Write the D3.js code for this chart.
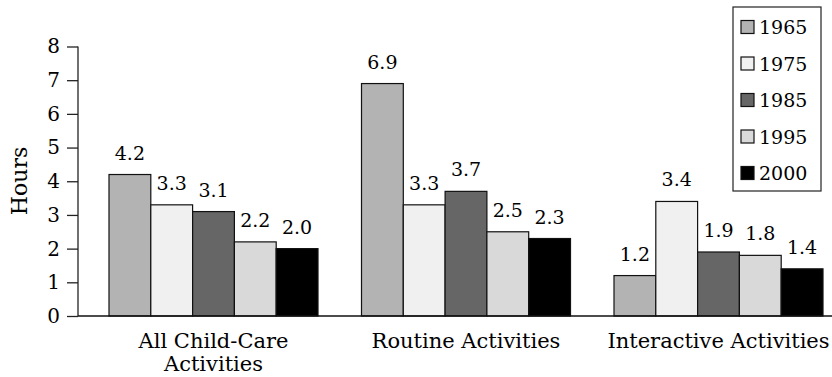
<!DOCTYPE html>
<html><head><meta charset="utf-8">
<script src="https://cdn.jsdelivr.net/npm/d3@7"></script>
<style>body{margin:0;background:#fff}svg{display:block}text{font-family:"DejaVu Serif",serif;fill:#000}</style>
</head><body>
<svg id="c" width="832" height="377"></svg>
<script>
const categories = [["All Child-Care","Activities"],["Routine Activities"],["Interactive Activities"]];
const years = ["1965","1975","1985","1995","2000"];
const colors = ["#b3b3b3","#f0f0f0","#666666","#d9d9d9","#000000"];
const v1965 = [4.2, 6.9, 1.2];
const v1975 = [3.3, 3.3, 3.4];
const v1985 = [3.1, 3.7, 1.9];
const v1995 = [2.2, 2.5, 1.8];
const v2000 = [2.0, 2.3, 1.4];
const yTicks = [0,1,2,3,4,5,6,7,8];
const series = [v1965, v1975, v1985, v1995, v2000];

const svg = d3.select("#c");
const fsNum = 19, fsText = 21;
const ff = '"DejaVu Serif",serif';
const x0 = 78;
const step = 252.5, pIn = 43.5/252.5, pOut = 31/252.5;
const x = d3.scaleBand().domain(d3.range(categories.length))
  .range([x0, x0 + step*(categories.length - pIn + 2*pOut)])
  .paddingInner(pIn).paddingOuter(pOut);
const xi = d3.scaleBand().domain(d3.range(years.length)).range([0, x.bandwidth()]);
const y = d3.scaleLinear().domain([0,8]).range([316, 46.5]);

// y axis
const ya = svg.append("g").attr("transform",`translate(${x0},0)`)
  .call(d3.axisLeft(y).tickValues(yTicks).tickSize(11).tickPadding(7).tickFormat(d3.format("d")));
ya.select(".domain").attr("d", `M0,${y(8)}V${y(0)}`).attr("stroke","#222").attr("stroke-width",1.3);
ya.selectAll(".tick line").attr("stroke","#222").attr("stroke-width",1.3);
ya.selectAll(".tick text").attr("font-size",fsNum + 1).attr("font-family",ff).attr("fill","#000");

svg.append("text").attr("transform",`translate(27,181) rotate(-90)`)
  .attr("text-anchor","middle").attr("font-size",fsText + 1).text("Hours");

// bars
const g = svg.append("g");
categories.forEach((c, ci) => {
  series.forEach((s, si) => {
    const bx = x(ci) + xi(si);
    g.append("rect").attr("x", bx).attr("y", y(s[ci]))
      .attr("width", xi.bandwidth()).attr("height", y(0) - y(s[ci]))
      .attr("fill", colors[si]).attr("stroke","#111").attr("stroke-width",1.2);
    g.append("text").attr("x", bx + xi.bandwidth()/2).attr("y", y(s[ci]) - 15)
      .attr("text-anchor","middle").attr("font-size",fsNum).text(s[ci].toFixed(1));
  });
});

// x axis line
svg.append("line").attr("x1", x0).attr("x2", 832).attr("y1", y(0)).attr("y2", y(0))
  .attr("stroke","#111").attr("stroke-width",1.3);

// category labels
categories.forEach((c, ci) => {
  const t = svg.append("text").attr("text-anchor","middle").attr("font-size",fsText)
    .attr("x", x(ci) + x.bandwidth()/2).attr("y", 348);
  c.forEach((line, li) => t.append("tspan").attr("x", x(ci) + x.bandwidth()/2).attr("dy", li ? 23 : 0).text(line));
});

// legend
const lg = svg.append("g");
lg.append("rect").attr("x",733).attr("y",7).attr("width",88).attr("height",184)
  .attr("fill","#fff").attr("stroke","#222").attr("stroke-width",1.2);
years.forEach((yr, i) => {
  const cy = 27 + i*36.5;
  lg.append("rect").attr("x",741).attr("y",cy-6.5).attr("width",13).attr("height",13)
    .attr("fill",colors[i]).attr("stroke","#111").attr("stroke-width",1.2);
  lg.append("text").attr("x",759).attr("y",cy+7).attr("font-size",fsNum).text(yr);
});
</script>
</body></html>
